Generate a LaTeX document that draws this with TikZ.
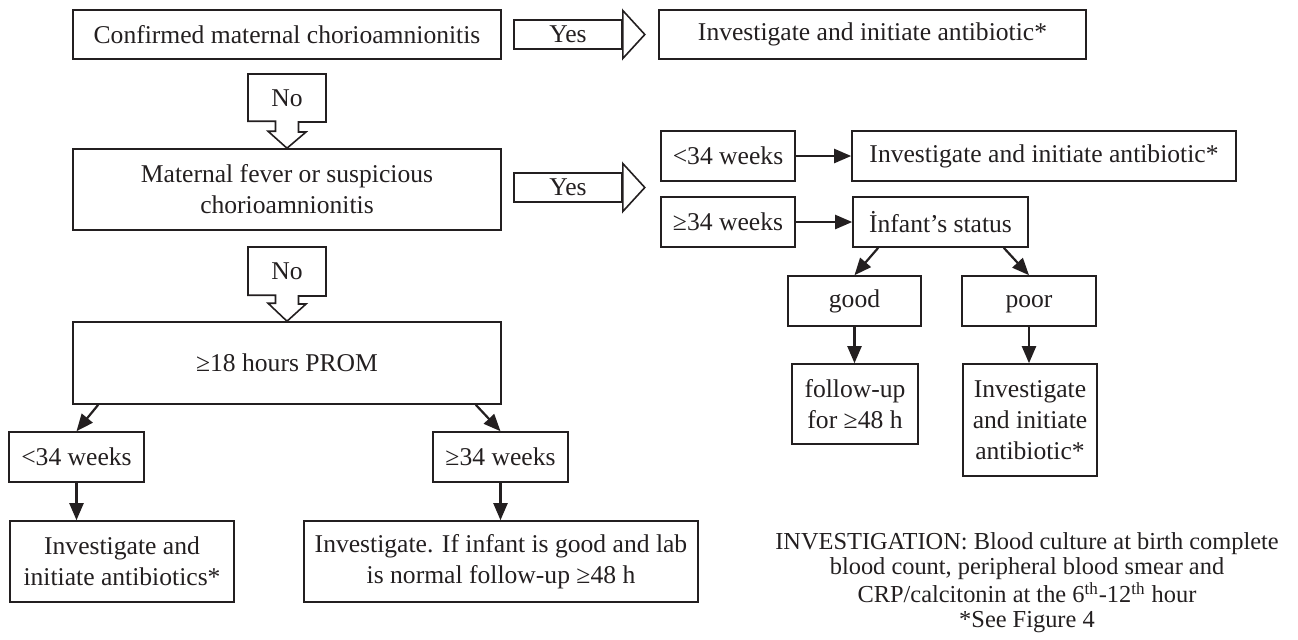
\documentclass[tikz,border=0pt]{standalone}
\usepackage{fontspec}
\setmainfont{Liberation Serif}
\usetikzlibrary{arrows.meta}
\definecolor{inkColor}{RGB}{35, 31, 32}

\begin{document}
\begin{tikzpicture}[x=0.5pt, y=-0.5pt, font=\fontsize{12.8}{15.5}\selectfont,
    box/.style={rectangle, draw=inkColor, line width=0.8pt, align=center, inner sep=1pt, text=inkColor},
    arr/.style={-{Triangle[length=8.5pt, width=7pt]}, line width=1.1pt, draw=inkColor},
    blk/.style={draw=inkColor, line width=0.8pt}]
    \useasboundingbox (0,0) rectangle (1298,639);

    % Left column
    \node[box, minimum width=214pt, minimum height=24.5pt] (conf) at (287,34.5) {Confirmed maternal chorioamnionitis};
    \node[box, minimum width=213.5pt, minimum height=24.5pt] (invTop) at (872.5,34.5) {Investigate and initiate antibiotic*};
    \node[box, minimum width=214pt, minimum height=40.5pt] (fever) at (287,189.5) {Maternal fever or suspicious\\chorioamnionitis};
    \node[box, minimum width=214pt, minimum height=41pt] (prom) at (287,363) {≥18 hours PROM};
    \node[box, minimum width=67.5pt, minimum height=25pt] (lt34) at (76.5,457) {<34 weeks};
    \node[box, minimum width=67.5pt, minimum height=25pt] (ge34) at (500.5,457) {≥34 weeks};
    \node[box, minimum width=112pt, minimum height=40.5pt] (invLt) at (122,561.5) {Investigate and\\initiate antibiotics*};
    \node[box, minimum width=197pt, minimum height=40.5pt] (invGe) at (501,561.5) {Investigate. If infant is good and lab\\is normal follow-up ≥48 h};

    % Right column
    \node[box, minimum width=67pt, minimum height=25pt] (lt34r) at (728,156) {<34 weeks};
    \node[box, minimum width=192pt, minimum height=25pt] (invR) at (1044,156) {Investigate and initiate antibiotic*};
    \node[box, minimum width=67pt, minimum height=25pt] (ge34r) at (728,222) {≥34 weeks};
    \node[box, minimum width=87.5pt, minimum height=25pt] (status) at (940.5,222) {İnfant’s status};
    \node[box, minimum width=66.5pt, minimum height=25pt, text height=9pt, text depth=3pt] (good) at (854.5,301) {good};
    \node[box, minimum width=67pt, minimum height=25pt, text height=9pt, text depth=3pt] (poor) at (1029,301) {poor};
    \node[box, minimum width=63pt, minimum height=40pt] (follow) at (855,404) {follow-up\\for ≥48 h};
    \node[box, minimum width=67pt, minimum height=56pt] (invPoor) at (1030,420) {Investigate\\and initiate\\antibiotic*};

    \node[align=center, text=inkColor, font=\fontsize{12.2}{12.5}\selectfont] (note) at (1027,583) {INVESTIGATION: Blood culture at birth complete\\blood count, peripheral blood smear and\\CRP/calcitonin at the 6\textsuperscript{th}-12\textsuperscript{th} hour\\*See Figure 4};

    % Block arrows
    \node[box, minimum width=54pt, minimum height=14.5pt] (yes1) at (568,34.5) {Yes};
    \draw[blk] (yes1.east) ++(0,-24) -- ++(22,24) -- ++(-22,24) -- cycle;
    \node[box, minimum width=54pt, minimum height=14.5pt] (yes2) at (568,187.5) {Yes};
    \draw[blk] (yes2.east) ++(0,-24) -- ++(22,24) -- ++(-22,24) -- cycle;

    \node[text=inkColor] (no1) at (287,98) {No};
    \draw[blk] (no1.center) ++(-39,-24) -- ++(78,0) -- ++(0,48) -- ++(-27.5,0) -- ++(0,10) -- ++(7.5,0) -- (fever.north) -- ++(-19,-17) -- ++(7.5,0) -- ++(0,-10) -- ++(-27.5,0) -- cycle;
    \node[text=inkColor] (no2) at (287,271.5) {No};
    \draw[blk] (no2.center) ++(-39,-24.5) -- ++(78,0) -- ++(0,49) -- ++(-27.5,0) -- ++(0,8) -- ++(7.5,0) -- (prom.north) -- ++(-19,-18) -- ++(7.5,0) -- ++(0,-8) -- ++(-27.5,0) -- cycle;

    % Line arrows
    \draw[arr] ([xshift=13pt]prom.south west) -- (lt34.north);
    \draw[arr] ([xshift=-13pt]prom.south east) -- (ge34.north);
    \draw[arr] (lt34.south) -- (lt34.south |- invLt.north);
    \draw[arr] (ge34.south) -- (ge34.south |- invGe.north);
    \draw[arr] (lt34r) -- (invR);
    \draw[arr] (ge34r) -- (status);
    \draw[arr] ([xshift=13pt]status.south west) -- (good.north);
    \draw[arr] ([xshift=-12.5pt]status.south east) -- (poor.north);
    \draw[arr] (good.south) -- (good.south |- follow.north);
    \draw[arr] (poor.south) -- (poor.south |- invPoor.north);
\end{tikzpicture}
\end{document}
